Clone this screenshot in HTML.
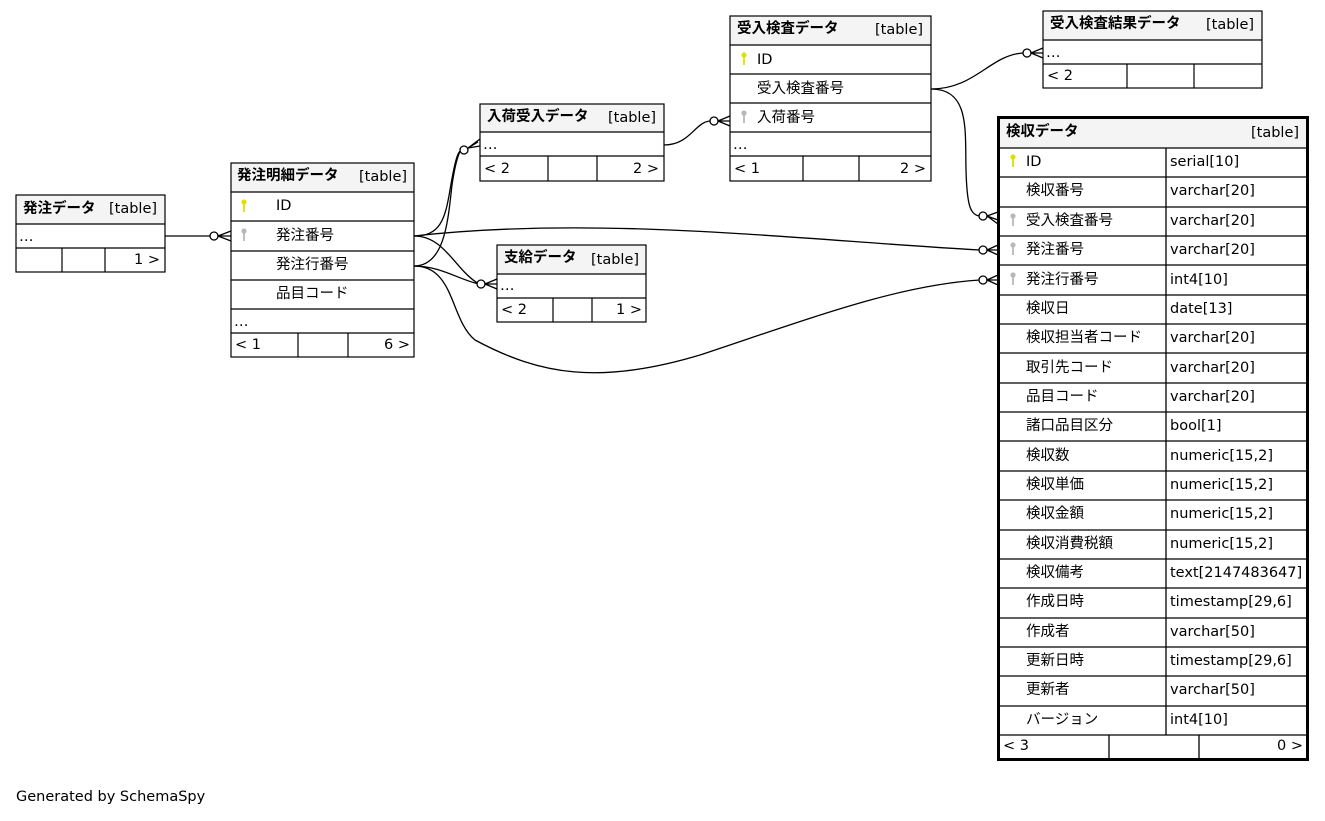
<!DOCTYPE html>
<html><head><meta charset="utf-8"><style>
html,body{margin:0;padding:0;background:#fff;}
svg text{font-family:"DejaVu Sans","Noto Sans CJK JP",sans-serif;font-size:14.5px;fill:#000;}
.b{font-weight:bold;}
</style></head><body>
<svg width="1325" height="816" viewBox="0 0 1325 816" xmlns="http://www.w3.org/2000/svg">
<defs>
<g id="ky"><circle cx="0" cy="-4" r="2.6" fill="#e0e000"/><rect x="-0.9" y="-3" width="1.8" height="9" fill="#e0e000"/></g>
<g id="kg"><circle cx="0" cy="-4" r="2.6" fill="#b8b8b8"/><rect x="-0.9" y="-3" width="1.8" height="9" fill="#b8b8b8"/></g>
</defs>
<g fill="none" stroke="#000" stroke-width="1.3">
<path d="M165,236 L210,236"/>
<path d="M414,236 C440,236 445,220 450,190 C455,160 458,150 462,150"/>
<path d="M414,266 C445,266 448,220 452,185 C456,158 460,150 462,150"/>
<path d="M414,236 C445,236 455,270 479,284"/>
<path d="M414,266 C440,266 460,280 479,284"/>
<path d="M414,236 C600,215 800,240 980,250"/>
<path d="M414,266 C455,266 450,320 475,340 C540,375 600,385 700,355 C820,315 900,285 980,280"/>
<path d="M664,145 C690,145 695,122 710,121"/>
<path d="M931,89 C975,89 990,55 1023,53"/>
<path d="M931,89 C970,89 965,130 966,170 C967,205 970,215 980,216"/>
<circle cx="214" cy="236" r="4" fill="#fff"/>
<circle cx="464" cy="150" r="4" fill="#fff"/>
<circle cx="481" cy="284" r="4" fill="#fff"/>
<circle cx="714" cy="121" r="4" fill="#fff"/>
<circle cx="1027" cy="53" r="4" fill="#fff"/>
<circle cx="983" cy="216" r="4" fill="#fff"/>
<circle cx="983" cy="250" r="4" fill="#fff"/>
<circle cx="983" cy="280" r="4" fill="#fff"/>
<path d="M218,236 L231,231 M218,236 L231,241 M218,236 L231,236"/>
<path d="M468,148 L480,139 M468,148 L480,146 M468,148 L478,142"/>
<path d="M485,284 L497,279 M485,284 L497,289 M485,284 L497,284"/>
<path d="M718,121 L730,116 M718,121 L730,126 M718,121 L730,121"/>
<path d="M1031,53 L1043,48 M1031,53 L1043,58 M1031,53 L1043,53"/>
<path d="M987,216 L998,212 M987,216 L998,224 M987,216 L998,220"/>
<path d="M987,250 L998,245 M987,250 L998,255 M987,250 L998,250"/>
<path d="M987,280 L998,275 M987,280 L998,285 M987,280 L998,280"/>
</g>

<rect x="16" y="195" width="149" height="29" fill="#f4f4f4"/>
<g fill="none" stroke="#000" stroke-width="1.2">
<rect x="16" y="195" width="149" height="77"/>
<path d="M16,224H165M16,248H165M62,248V272M105,248V272"/>
</g>
<text x="23" y="213" class="b">発注データ</text><text x="109" y="213">[table]</text>
<text x="19" y="241">…</text><text x="134" y="264">1 &gt;</text>

<rect x="231" y="163" width="183" height="29" fill="#f4f4f4"/>
<g fill="none" stroke="#000" stroke-width="1.2">
<rect x="231" y="163" width="183" height="194"/>
<path d="M231,192H414M231,221H414M231,251H414M231,280H414M231,309H414M231,333H414M298,333V357M348,333V357"/>
</g>
<text x="237" y="180" class="b">発注明細データ</text><text x="359" y="181">[table]</text>
<use href="#ky" x="244" y="206"/><text x="276" y="210">ID</text>
<use href="#kg" x="244" y="235"/><text x="276" y="240">発注番号</text>
<text x="276" y="269">発注行番号</text>
<text x="276" y="298">品目コード</text>
<text x="234" y="326">…</text>
<text x="235" y="349">&lt; 1</text><text x="384" y="349">6 &gt;</text>

<rect x="480" y="104" width="184" height="28" fill="#f4f4f4"/>
<g fill="none" stroke="#000" stroke-width="1.2">
<rect x="480" y="104" width="184" height="77"/>
<path d="M480,132H664M480,156H664M548,156V181M597,156V181"/>
</g>
<text x="487" y="121" class="b">入荷受入データ</text><text x="608" y="122">[table]</text>
<text x="483" y="149">…</text>
<text x="484" y="173">&lt; 2</text><text x="633" y="173">2 &gt;</text>

<rect x="497" y="245" width="149" height="29" fill="#f4f4f4"/>
<g fill="none" stroke="#000" stroke-width="1.2">
<rect x="497" y="245" width="149" height="77"/>
<path d="M497,274H646M497,298H646M553,298V322M592,298V322"/>
</g>
<text x="504" y="262" class="b">支給データ</text><text x="591" y="264">[table]</text>
<text x="500" y="290">…</text>
<text x="501" y="314">&lt; 2</text><text x="616" y="314">1 &gt;</text>

<rect x="730" y="16" width="201" height="29" fill="#f4f4f4"/>
<g fill="none" stroke="#000" stroke-width="1.2">
<rect x="730" y="16" width="201" height="165"/>
<path d="M730,45H931M730,74H931M730,103H931M730,132H931M730,156H931M803,156V181M859,156V181"/>
</g>
<text x="737" y="33" class="b">受入検査データ</text><text x="875" y="34">[table]</text>
<use href="#ky" x="744" y="59"/><text x="757" y="64">ID</text>
<text x="757" y="93">受入検査番号</text>
<use href="#kg" x="744" y="117"/><text x="757" y="122">入荷番号</text>
<text x="733" y="149">…</text>
<text x="734" y="173">&lt; 1</text><text x="900" y="173">2 &gt;</text>

<rect x="1043" y="11" width="219" height="29" fill="#f4f4f4"/>
<g fill="none" stroke="#000" stroke-width="1.2">
<rect x="1043" y="11" width="219" height="77"/>
<path d="M1043,40H1262M1043,64H1262M1127,64V88M1194,64V88"/>
</g>
<text x="1050" y="28" class="b">受入検査結果データ</text><text x="1206" y="29">[table]</text>
<text x="1046" y="57">…</text>
<text x="1047" y="80">&lt; 2</text>

<rect x="999" y="119" width="308" height="29" fill="#f4f4f4"/>
<g fill="none" stroke="#000" stroke-width="1.3">
<rect x="998.5" y="117.5" width="309" height="642" stroke-width="3"/>
<path d="M999,148H1307M999,177H1307M999,207H1307M999,236H1307M999,265H1307M999,295H1307M999,324H1307M999,353H1307M999,383H1307M999,412H1307M999,441H1307M999,471H1307M999,500H1307M999,530H1307M999,559H1307M999,588H1307M999,618H1307M999,647H1307M999,676H1307M999,706H1307M999,735H1307"/>
<path d="M1166,148V735M1109,735V758M1199,735V758"/>
</g>
<text x="1006" y="136" class="b">検収データ</text><text x="1251" y="137">[table]</text>
<use href="#ky" x="1013" y="161"/>
<use href="#kg" x="1013" y="220"/>
<use href="#kg" x="1013" y="249"/>
<use href="#kg" x="1013" y="279"/>
<g>
<text x="1026" y="166">ID</text><text x="1170" y="166">serial[10]</text>
<text x="1026" y="195">検収番号</text><text x="1170" y="195">varchar[20]</text>
<text x="1026" y="225">受入検査番号</text><text x="1170" y="225">varchar[20]</text>
<text x="1026" y="254">発注番号</text><text x="1170" y="254">varchar[20]</text>
<text x="1026" y="284">発注行番号</text><text x="1170" y="284">int4[10]</text>
<text x="1026" y="313">検収日</text><text x="1170" y="313">date[13]</text>
<text x="1026" y="342">検収担当者コード</text><text x="1170" y="342">varchar[20]</text>
<text x="1026" y="372">取引先コード</text><text x="1170" y="372">varchar[20]</text>
<text x="1026" y="401">品目コード</text><text x="1170" y="401">varchar[20]</text>
<text x="1026" y="430">諸口品目区分</text><text x="1170" y="430">bool[1]</text>
<text x="1026" y="460">検収数</text><text x="1170" y="460">numeric[15,2]</text>
<text x="1026" y="489">検収単価</text><text x="1170" y="489">numeric[15,2]</text>
<text x="1026" y="518">検収金額</text><text x="1170" y="518">numeric[15,2]</text>
<text x="1026" y="548">検収消費税額</text><text x="1170" y="548">numeric[15,2]</text>
<text x="1026" y="577">検収備考</text><text x="1170" y="577">text[2147483647]</text>
<text x="1026" y="606">作成日時</text><text x="1170" y="606">timestamp[29,6]</text>
<text x="1026" y="636">作成者</text><text x="1170" y="636">varchar[50]</text>
<text x="1026" y="665">更新日時</text><text x="1170" y="665">timestamp[29,6]</text>
<text x="1026" y="694">更新者</text><text x="1170" y="694">varchar[50]</text>
<text x="1026" y="724">バージョン</text><text x="1170" y="724">int4[10]</text>
</g>
<text x="1003" y="750">&lt; 3</text><text x="1277" y="750">0 &gt;</text>

<text x="16" y="801">Generated by SchemaSpy</text>
</svg>
</body></html>
